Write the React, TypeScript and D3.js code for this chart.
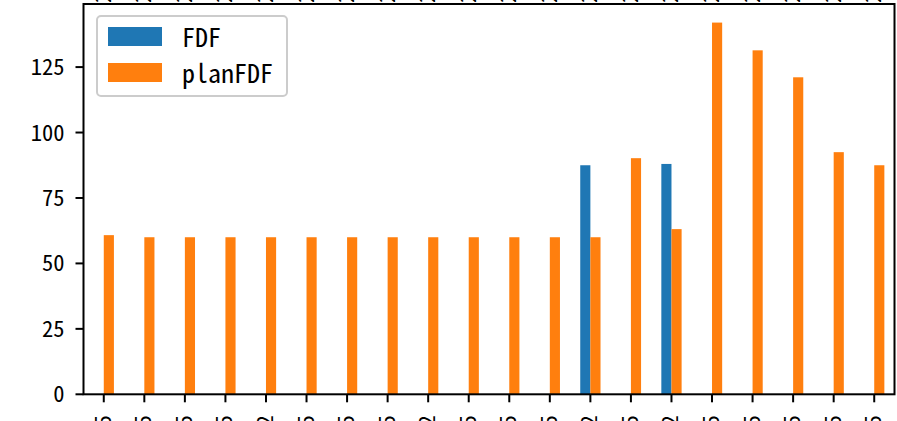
import React from "react";
import * as d3 from "d3";

const categories = [
  "2023-01-05", "2023-01-05", "2023-01-05", "2023-01-05", "2023-01-02",
  "2023-01-05", "2023-01-05", "2023-01-05", "2023-01-02", "2023-01-05",
  "2023-01-05", "2023-01-05", "2023-01-02", "2023-01-05", "2023-01-02",
  "2023-01-05", "2023-01-05", "2023-01-05", "2023-01-05", "2023-01-05",
];
const topLabels = [
  "2023", "2023", "2023", "2023", "2023", "2023", "2023", "2023", "2023", "2023",
  "2023", "2023", "2023", "2023", "2023", "2023", "2023", "2023", "2023", "2023",
];
const fdf: (number | null)[] = [
  null, null, null, null, null, null, null, null, null, null,
  null, null, 87.5, null, 88, null, null, null, null, null,
];
const planFdf = [
  60.8, 60, 60, 60, 60, 60, 60, 60, 60, 60,
  60, 60, 60, 90.2, 63.1, 142, 131.4, 121.1, 92.5, 87.5,
];
const yTicks = [0, 25, 50, 75, 100, 125];
const seriesNames = ["FDF", "planFDF"];
const colors = ["#1f77b4", "#ff7f0e"];

const W = 897;
const H = 421;
const left = 83.5;
const right = 894.5;
const top = 4;
const bottom = 394.3;
const font = "'Noto Sans Mono CJK SC', 'Noto Sans CJK SC', 'DejaVu Sans Mono', monospace";

export default function App() {
  const n = categories.length;
  const x = d3.scaleLinear().domain([-0.5, n - 0.5]).range([left, right]);
  const maxV = d3.max(planFdf.concat(fdf.filter((v) => v != null) as number[])) as number;
  const y = d3.scaleLinear().domain([0, maxV * 1.05]).range([bottom, top]);
  const bw = x(0.25) - x(0);

  return (
    <svg
      width={W}
      height={H}
      style={{ position: "fixed", left: 0, top: 0, background: "#fff" }}
      fontFamily={font}
    >
      <rect x={0} y={0} width={W} height={H} fill="#fff" />
      {/* top labels of upper panel (cut off) */}
      {topLabels.map((t, i) => (
        <text
          key={"tl" + i}
          transform={`translate(${x(i) + 7},${top - 1}) rotate(-90)`}
          fontSize={22}
          textAnchor="start"
          fill="#000"
        >
          {t}
        </text>
      ))}
      {/* bars */}
      {fdf.map((v, i) =>
        v == null ? null : (
          <rect key={"b" + i} x={x(i) - bw} y={y(v)} width={bw} height={y(0) - y(v)} fill={colors[0]} />
        )
      )}
      {planFdf.map((v, i) => (
        <rect key={"o" + i} x={x(i)} y={y(v)} width={bw} height={y(0) - y(v)} fill={colors[1]} />
      ))}
      {/* frame */}
      <rect x={left} y={top} width={right - left} height={bottom - top} fill="none" stroke="#000" strokeWidth={2} />
      {/* y axis */}
      {yTicks.map((t) => (
        <g key={"y" + t}>
          <line x1={left - 8} x2={left} y1={y(t)} y2={y(t)} stroke="#000" strokeWidth={2} />
          <text x={left - 19} y={y(t)} dy={8} fontSize={22.5} textAnchor="end" fill="#000">
            {t}
          </text>
        </g>
      ))}
      {/* x axis */}
      {categories.map((c, i) => (
        <g key={"x" + i}>
          <line x1={x(i)} x2={x(i)} y1={bottom} y2={bottom + 8} stroke="#000" strokeWidth={2} />
          <text
            transform={`translate(${x(i) + 7},${bottom + 21}) rotate(-90)`}
            fontSize={22}
            textAnchor="end"
            fill="#000"
          >
            {c}
          </text>
        </g>
      ))}
      {/* legend */}
      <rect x={97} y={16} width={190} height={80} rx={4} fill="#fff" fillOpacity={0.8} stroke="#cccccc" strokeWidth={2} />
      {seriesNames.map((s, i) => (
        <g key={"l" + i}>
          <rect x={108} y={27 + i * 36} width={54} height={19} fill={colors[i]} />
          <text x={182} y={47 + i * 36} fontSize={26} fill="#000">
            {s}
          </text>
        </g>
      ))}
    </svg>
  );
}
